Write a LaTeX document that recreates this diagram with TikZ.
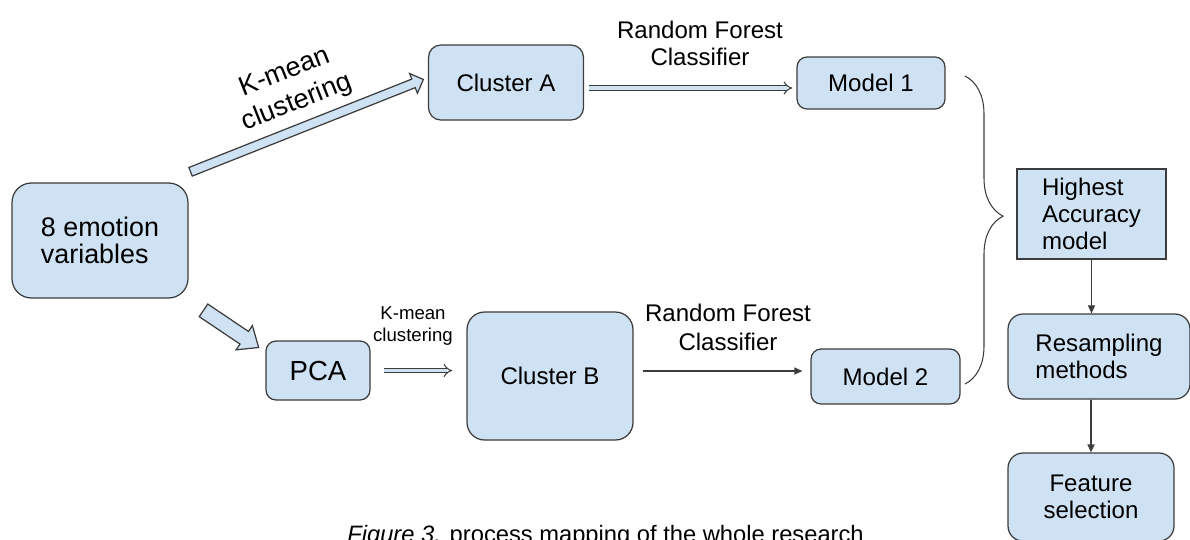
\documentclass[tikz,border=0pt]{standalone}
\usepackage{fontspec}
\setmainfont{Liberation Sans}
\usetikzlibrary{shapes.arrows,arrows.meta,decorations.pathreplacing}

\definecolor{boxblue}{HTML}{CFE2F3}
\definecolor{boxline}{HTML}{3C3C3C}

\begin{document}
\begin{tikzpicture}[
  x=0.02cm, y=-0.02cm,
  box/.style={
    draw=boxline,
    fill=boxblue,
    line width=0.7pt,
    rounded corners=#1,
    inner sep=0pt,
    font=\fontsize{13.7}{15.4}\selectfont
  },
  box/.default=5.7pt,
  lbl/.style={align=center, inner sep=0pt, font=\fontsize{13.7}{15.4}\selectfont},
  fatarrow/.style={
    single arrow,
    draw=boxline,
    fill=boxblue,
    line width=0.7pt,
    anchor=tail,
    sloped
  },
  dblarrow/.style={
    draw=boxline,
    line width=0.6pt,
    double=boxblue,
    double distance=0.07cm,
    -{Implies}
  },
  thinarrow/.style={
    draw=boxline,
    line width=0.7pt,
    -{Triangle[length=0.16cm,width=0.14cm]}
  }
]
  \clip (0,0) rectangle (1190,539);

  % boxes
  \node[box=11pt, minimum width=3.52cm, minimum height=2.30cm, align=left,
        font=\fontsize{15.3}{15}\selectfont] (emo) at (100,240.5) {8 emotion\\variables};
  \node[box=7pt, minimum width=3.1cm, minimum height=1.5cm] (clA) at (506,82.5) {Cluster A};
  \node[box, minimum width=2.96cm, minimum height=1.04cm] (m1) at (871,83) {Model 1};
  \node[box, minimum width=2.08cm, minimum height=1.18cm,
        font=\fontsize{15.7}{17}\selectfont] (pca) at (318,370.5) {PCA};
  \node[box=10pt, minimum width=3.32cm, minimum height=2.56cm] (clB) at (550,376) {Cluster B};
  \node[box, minimum width=2.98cm, minimum height=1.1cm] (m2) at (885.5,376.5) {Model 2};
  \node[box=0pt, minimum width=2.98cm, minimum height=1.8cm, align=left] (best) at (1091.5,214) {Highest\\Accuracy\\model};
  \node[box=8.5pt, minimum width=3.64cm, minimum height=1.7cm, align=left] (resamp) at (1099,356.5) {Resampling\\methods};
  \node[box=8.5pt, minimum width=3.32cm, minimum height=1.76cm, align=center] (feat) at (1091,497) {Feature\\selection};

  % labels
  \node[lbl, rotate=21.5, font=\fontsize{15.4}{18.5}\selectfont] (kup) at (291,88) {K-mean\\clustering};
  \node[lbl, font=\fontsize{10.6}{12.5}\selectfont] (kdown) at (413,326) {K-mean\\clustering};
  \node[lbl] (rfup) at (700,43) {Random Forest\\Classifier};
  \node[lbl, font=\fontsize{13.7}{16.5}\selectfont] (rfdown) at (728,327) {Random Forest\\Classifier};
  \node[anchor=base west, inner sep=0pt, font=\fontsize{13.5}{16}\selectfont] (cap) at (347,542)
    {\textit{Figure 3.} process mapping of the whole research};

  % fat arrows out of the emotion box
  \coordinate (k1tail) at (190,172);
  \coordinate (k1head) at (422,80);
  \coordinate (k2tail) at (203,310);
  \coordinate (k2head) at (258,347);
  \path (k1tail) -- (k1head) node[fatarrow, pos=0, minimum height=5.01cm, inner sep=0.08cm,
    single arrow head extend=0.12cm] {};
  \path (k2tail) -- (k2head) node[fatarrow, pos=0, minimum height=1.33cm, inner sep=0.14cm,
    single arrow head extend=0.14cm, single arrow tip angle=80] {};

  % connectors
  \draw[dblarrow, shorten <=0.1cm, shorten >=0.08cm] ([yshift=-0.11cm]clA.east) -- ([yshift=-0.11cm]clA.east -| m1.west);
  \draw[dblarrow, shorten <=0.26cm, shorten >=0.28cm] (pca.east) -- (pca.east -| clB.west);
  \draw[thinarrow, shorten <=0.18cm, shorten >=0.16cm] ([yshift=0.1cm]clB.east) -- ([yshift=0.1cm]clB.east -| m2.west);
  \draw[thinarrow] (best.south) -- (best.south |- resamp.north);
  \draw[thinarrow] (feat.north |- resamp.south) -- (feat.north);

  % brace
  \coordinate (brtop) at (965,76);
  \coordinate (brbot) at (965,384);
  \draw[boxline, line width=0.6pt, decorate, decoration={brace, amplitude=0.76cm, aspect=0.455}] (brtop) -- (brbot);
\end{tikzpicture}
\end{document}
